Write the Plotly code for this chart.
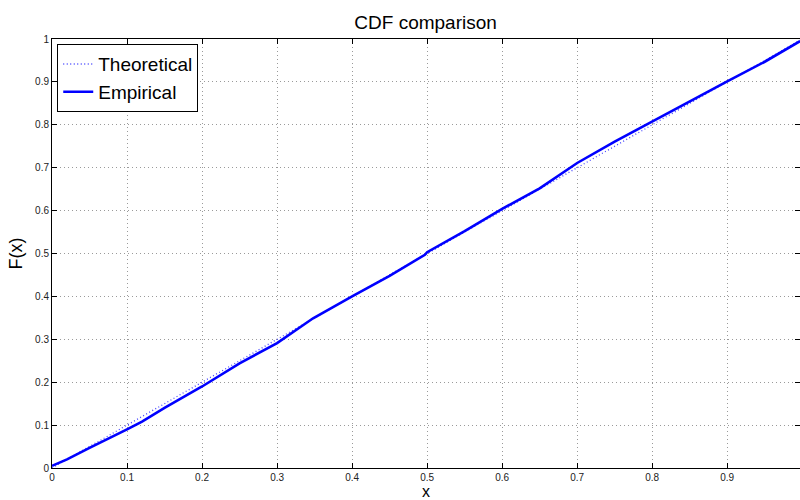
import plotly.graph_objects as go

# Theoretical CDF (uniform on [0,1])
theo_x = [0.0, 0.997]
theo_y = [0.0, 0.997]

# Empirical CDF
emp_x = [0.0, 0.02, 0.05, 0.08, 0.10, 0.12, 0.137, 0.15, 0.20, 0.25, 0.30, 0.348,
         0.40, 0.45, 0.497, 0.50, 0.55, 0.60, 0.65, 0.70, 0.75, 0.80, 0.85, 0.90,
         0.95, 0.997]
emp_y = [0.005, 0.02, 0.047, 0.072, 0.090, 0.108, 0.127, 0.140, 0.190, 0.244, 0.291, 0.349,
         0.400, 0.448, 0.497, 0.503, 0.552, 0.604, 0.652, 0.711, 0.761, 0.808, 0.854, 0.901,
         0.947, 0.995]

x_ticks = [0, 0.1, 0.2, 0.3, 0.4, 0.5, 0.6, 0.7, 0.8, 0.9]
x_tick_labels = ["0", "0.1", "0.2", "0.3", "0.4", "0.5", "0.6", "0.7", "0.8", "0.9"]
y_ticks = [0, 0.1, 0.2, 0.3, 0.4, 0.5, 0.6, 0.7, 0.8, 0.9, 1.0]
y_tick_labels = ["0", "0.1", "0.2", "0.3", "0.4", "0.5", "0.6", "0.7", "0.8", "0.9", "1"]

FONT = "Liberation Sans, Arial, Helvetica, sans-serif"

fig = go.Figure()
fig.add_trace(go.Scatter(x=theo_x, y=theo_y, mode="lines", name="Theoretical",
                         line=dict(color="rgb(70,70,255)", width=1.3, dash="1px,2.5px")))
fig.add_trace(go.Scatter(x=emp_x, y=emp_y, mode="lines", name="Empirical",
                         line=dict(color="rgb(0,0,255)", width=2.6)))

axis_common = dict(
    showline=True, linecolor="black", linewidth=1, mirror="ticks",
    ticks="inside", ticklen=5, tickcolor="black", tickwidth=1,
    showgrid=True, gridcolor="#9a9a9a", griddash="1px,3px", gridwidth=1,
    zeroline=False, tickfont=dict(family=FONT, size=10, color="#222"),
)

fig.update_xaxes(range=[0, 0.997], tickvals=x_ticks, ticktext=x_tick_labels, **axis_common)
fig.update_yaxes(range=[0, 1], tickvals=y_ticks, ticktext=y_tick_labels, **axis_common)

fig.update_layout(
    width=800, height=500,
    margin=dict(l=52, r=0, t=39, b=32),
    paper_bgcolor="white", plot_bgcolor="white",
    font=dict(family=FONT, color="black"),
    title=dict(text="CDF comparison", x=0.532, xanchor="center", y=1 - 22 / 500,
               yanchor="middle", yref="container", font=dict(size=19, color="black")),
    showlegend=True,
    legend=dict(x=0.007, y=0.988, xanchor="left", yanchor="top",
                bgcolor="white", bordercolor="black", borderwidth=1,
                font=dict(size=19, color="black"), tracegroupgap=0,
                itemwidth=30),
    annotations=[
        dict(text="x", xref="paper", yref="paper", x=0.5, y=-23.5 / 429, yanchor="middle",
             showarrow=False, font=dict(size=16, color="black")),
        dict(text="F(x)", xref="paper", yref="paper", x=-37 / 748, y=0.5, xanchor="center",
             yanchor="middle", textangle=-90, showarrow=False,
             font=dict(size=18, color="black")),
    ],
)

fig.write_html("out.html")
